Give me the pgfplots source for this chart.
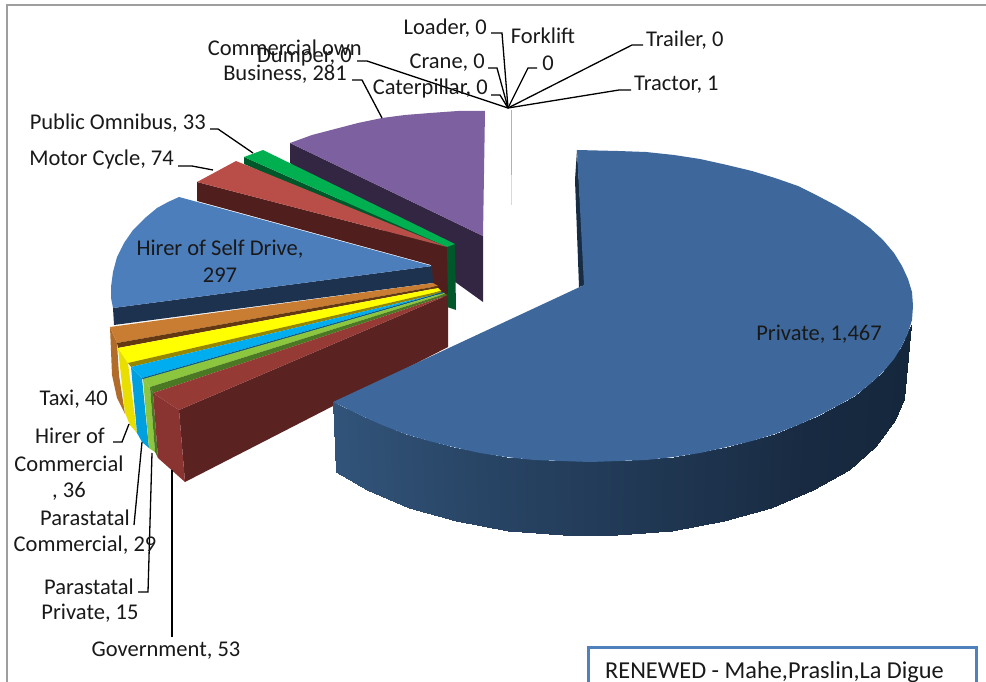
\documentclass[border=0pt]{standalone}
\usepackage{pgfplots}
\pgfplotsset{compat=1.18}
\usepackage{fontspec}
\setmainfont{Carlito}
\definecolor{cPriv}{RGB}{62,104,155}
\definecolor{cPrivD}{RGB}{24,44,68}
\definecolor{cHire}{RGB}{76,126,188}
\definecolor{cHireD}{RGB}{28,50,78}
\definecolor{cBus}{RGB}{125,96,160}
\definecolor{cBusD}{RGB}{50,38,66}
\definecolor{cGreen}{RGB}{0,176,80}
\definecolor{cGreenD}{RGB}{0,88,42}
\definecolor{cRed}{RGB}{185,78,72}
\definecolor{cRedD}{RGB}{80,30,28}
\definecolor{cGov}{RGB}{150,58,54}
\definecolor{cGovF}{RGB}{138,52,50}
\definecolor{cGovD}{RGB}{90,35,33}
\definecolor{cOr}{RGB}{200,125,50}
\definecolor{cOrF}{RGB}{178,108,42}
\definecolor{cOrD}{RGB}{100,56,16}
\definecolor{cYe}{RGB}{255,255,0}
\definecolor{cYeF}{RGB}{232,222,0}
\definecolor{cYeD}{RGB}{150,135,0}
\definecolor{cCy}{RGB}{0,174,239}
\definecolor{cCyF}{RGB}{0,160,222}
\definecolor{cCyD}{RGB}{10,90,135}
\definecolor{cLg}{RGB}{140,198,63}
\definecolor{cLgD}{RGB}{75,120,35}
\definecolor{cBox}{RGB}{79,129,189}
\pgfplotsset{colormap={sidec}{rgb255=(20,38,58) rgb255=(24,42,65) rgb255=(36,62,92) rgb255=(50,84,122)}}
\pgfplotsset{lead/.style={draw=black,line width=1.3pt,no markers,forget plot},
 poly/.style={draw=none,no markers,forget plot}}
\begin{document}
\begin{tikzpicture}
\begin{axis}[
  scale only axis,width=986pt,height=682pt,
  xmin=0,xmax=986,ymin=0,ymax=682,y dir=reverse,
  hide axis,clip=true,
  colormap name=sidec,
  nodes={font=\fontsize{22.5}{26}\selectfont,text=black!90,inner sep=0pt}
]
% frame
\addplot[draw=black!38,line width=2pt,no markers] coordinates {(7,690)(7,5)(990,5)};
% Business
\addplot[poly,fill=cBusD] coordinates {(290,143)(483,236)(483,302)(290,163)} --cycle;
\addplot[poly,fill=cBus] coordinates {(483,236)(290,143)(312,135)(335,129)(358,123)(382,118)(405,115)(430,113)(458,111)(485,111)} --cycle;
% Public Omnibus
\addplot[poly,fill=cGreenD] coordinates {(244,157)(447,247)(455,244)(456,310)(447,307)(447,255)(244,164)} --cycle;
\addplot[poly,fill=cGreen] coordinates {(244,157)(263,150)(455,244)(447,247)} --cycle;
% Motor Cycle
\addplot[poly,fill=cRedD] coordinates {(197,182)(447,247)(448,300)(431,290)(431,265)(197,201)} --cycle;
\addplot[poly,fill=cRed] coordinates {(197,182)(236,161)(447,247)} --cycle;
% Hirer of Self Drive
\addplot[poly,fill=cHireD] coordinates {(113,308)(432,266)(433,283)(114,325)} --cycle;
\addplot[poly,fill=cHire] coordinates {(179,197)(168,202)(157,208)(145,218)(133,230)(124,243)(117,257)(113,272)(111,287)(111,298)(113,308)(432,266)} --cycle;
% Taxi
\addplot[poly,fill=cOrF] coordinates {(110,327)(117,343)(119,375)(125,414)(117,398)(112,375)} --cycle;
\addplot[poly,fill=cOr] coordinates {(110,327)(117,343)(438,286)(433,283)} --cycle;
\addplot[poly,fill=cOrD] coordinates {(117,343)(118,348)(438,288)(438,286)} --cycle;
% Hirer of Commercial
\addplot[poly,fill=cYeF] coordinates {(118,348)(128,363)(137,433)(130,425)(125,413)} --cycle;
\addplot[poly,fill=cYe] coordinates {(118,348)(128,363)(441,291)(438,288)} --cycle;
\addplot[poly,fill=cYeD] coordinates {(128,363)(131,367)(441,293)(441,291)} --cycle;
% Parastatal Commercial
\addplot[poly,fill=cCyF] coordinates {(131,367)(142,378)(149,448)(142,442)(137,433)} --cycle;
\addplot[poly,fill=cCy] coordinates {(131,367)(142,378)(443,292)(441,293)} --cycle;
\addplot[poly,fill=cCyD] coordinates {(142,378)(143,380)(444,293)(443,292)} --cycle;
% Parastatal Private
\addplot[poly,fill=cLg] coordinates {(143,379)(150,387)(155,452)(149,448)} --cycle;
\addplot[poly,fill=cLgD] coordinates {(150,387)(153,393)(158,458)(155,452)} --cycle;
\addplot[poly,fill=cLg] coordinates {(143,379)(150,387)(445,294)(444,293)} --cycle;
\addplot[poly,fill=cLgD] coordinates {(150,387)(153,393)(448,295)(445,294)} --cycle;
% Government
\addplot[poly,fill=cGovD] coordinates {(179,410)(448,295)(448,347)(185,482)} --cycle;
\addplot[poly,fill=cGovF] coordinates {(153,393)(179,410)(185,482)(158,458)} --cycle;
\addplot[poly,fill=cGov] coordinates {(153,393)(179,410)(448,295)} --cycle;
% Private: outer wall
\addplot[patch,patch type=rectangle,shader=interp,point meta=explicit,forget plot,
  point meta min=0,point meta max=142]
 table[meta=c]{
x y c
911 325 7
902 346 15
895 420 15
904 399 7
902 346 15
883 372 25
876 446 25
895 420 15
883 372 25
855 396 35
849 470 35
876 446 25
855 396 35
818 416 45
813 490 45
849 470 35
818 416 45
775 434 55
771 508 55
813 490 45
775 434 55
727 447 65
724 521 65
771 508 55
727 447 65
674 457 75
672 531 75
724 521 65
674 457 75
618 461 85
617 535 85
672 531 75
618 461 85
562 461 95
563 535 95
617 535 85
562 461 95
506 457 105
508 531 105
563 535 95
506 457 105
453 447 115
456 521 115
508 531 105
453 447 115
405 434 125
409 508 125
456 521 115
405 434 125
362 416 135
367 490 135
409 508 125
362 416 135
333 402 142
336 472 142
367 490 135
};
% Private: inner wall and top
\addplot[poly,fill=cPrivD] coordinates {(577,150)(575,180)(579,287)(585,285)} --cycle;
\addplot[poly,fill=cPriv] coordinates {(577,150)(618,151)(646,152)(674,155)(700,159)(727,165)(752,171)(775,178)(798,186)(818,196)(837,206)(855,217)(870,228)(883,240)(894,253)(902,266)(908,279)(912,292)(913,306)(912,320)(908,333)(902,346)(894,359)(883,372)(870,384)(855,396)(837,406)(818,416)(798,425)(775,434)(752,441)(727,447)(700,453)(674,457)(646,460)(618,461)(590,462)(562,461)(534,460)(506,457)(480,453)(453,447)(429,441)(405,434)(382,425)(362,416)(333,402)(584,285)} --cycle;
% zero slices
\addplot[draw=black!30,line width=1pt,no markers,forget plot] coordinates {(511,110)(511,175)};
\addplot[draw=black!15,line width=1pt,no markers,forget plot] coordinates {(511,175)(511,205)};
% leaders
\addplot[lead] coordinates {(491,33)(502,33)(508,108)};
\addplot[lead] coordinates {(488,68)(497,68)(508,108)};
\addplot[lead] coordinates {(491,95)(500,95)(508,108)};
\addplot[lead] coordinates {(537,68)(528,68)(508,108)};
\addplot[lead] coordinates {(643,45)(632,45)(508,108)};
\addplot[lead] coordinates {(631,90)(619,90)(508,108)};
\addplot[lead] coordinates {(357,61)(367,61)(508,108)};
\addplot[lead] coordinates {(352,80)(362,80)(382,118)};
\addplot[lead] coordinates {(210,129)(218,129)(253,153)};
\addplot[lead] coordinates {(178,166)(192,166)(213,170)};
\addplot[lead] coordinates {(113,442)(122,442)(129,424)};
\addplot[lead] coordinates {(134,525)(142,442)};
\addplot[lead] coordinates {(138,592)(148,592)(152,453)};
\addplot[lead] coordinates {(172,637)(172,470)};
% text box
\addplot[draw=cBox,fill=white,line width=3pt,no markers,forget plot] coordinates {(588,700)(588,647)(976,647)(976,700)} --cycle;
% labels
\node[anchor=east] at (axis cs:487,28) {Loader, 0};
\node at (axis cs:543,36) {Forklift};
\node at (axis cs:548,63) {0};
\node[anchor=east] at (axis cs:485,63) {Crane, 0};
\node[anchor=east] at (axis cs:488,89) {Caterpillar, 0};
\node[anchor=west] at (axis cs:646,40) {Trailer, 0};
\node[anchor=west] at (axis cs:634,85) {Tractor, 1};
\node[anchor=east] at (axis cs:362,48) {Commercial own};
\node[anchor=east] at (axis cs:352,57) {Dumper, 0};
\node[anchor=east] at (axis cs:347,74) {Business, 281};
\node[anchor=east] at (axis cs:206,123) {Public Omnibus, 33};
\node[anchor=east] at (axis cs:174,160) {Motor Cycle, 74};
\node at (axis cs:220,249) {Hirer of Self Drive,};
\node at (axis cs:220,275) {297};
\node at (axis cs:819,334) {Private, 1,467};
\node[anchor=east] at (axis cs:108,399) {Taxi, 40};
\node at (axis cs:70,436) {Hirer of};
\node at (axis cs:69,464) {Commercial};
\node at (axis cs:69,491) {, 36};
\node at (axis cs:85,518) {Parastatal};
\node at (axis cs:85,545) {Commercial, 29};
\node at (axis cs:89,587) {Parastatal};
\node at (axis cs:90,613) {Private, 15};
\node at (axis cs:166,651) {Government, 53};
\node[anchor=west,font=\fontsize{24.3}{28}\selectfont] at (axis cs:605,672) {RENEWED - Mahe,Praslin,La Digue};
\end{axis}
\useasboundingbox (current axis.south west) rectangle (current axis.north east);
\end{tikzpicture}
\end{document}
